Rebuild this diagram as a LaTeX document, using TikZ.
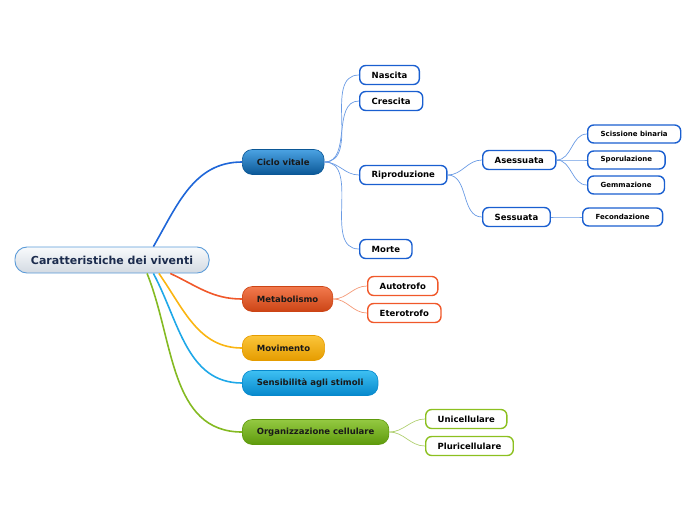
\documentclass[tikz,border=0pt]{standalone}
\usepackage{fontspec}
\setmainfont{DejaVu Sans}
\usetikzlibrary{positioning}
\definecolor{rootink}{HTML}{1B2B4D}
\definecolor{rootedge}{HTML}{5B9BD8}
\definecolor{roottop}{HTML}{F8FAFC}
\definecolor{rootbot}{HTML}{D3DAE2}
\definecolor{cvtrunk}{HTML}{1E66D8}
\definecolor{cvedge}{HTML}{1A5FD0}
\definecolor{cvtwig}{HTML}{6A9BE4}
\definecolor{cvtop}{HTML}{4BA3E3}
\definecolor{cvbot}{HTML}{0B5796}
\definecolor{mbtrunk}{HTML}{F0582A}
\definecolor{mbtwig}{HTML}{F49A78}
\definecolor{mbtop}{HTML}{F27A4E}
\definecolor{mbbot}{HTML}{CC4415}
\definecolor{mvtrunk}{HTML}{FAB512}
\definecolor{mvtop}{HTML}{FBC53A}
\definecolor{mvbot}{HTML}{E59C00}
\definecolor{sstrunk}{HTML}{1FA8E8}
\definecolor{sstop}{HTML}{3EC0F2}
\definecolor{ssbot}{HTML}{0688CC}
\definecolor{octrunk}{HTML}{84BA22}
\definecolor{ocedge}{HTML}{8CC020}
\definecolor{octwig}{HTML}{B0D070}
\definecolor{octop}{HTML}{94C942}
\definecolor{ocbot}{HTML}{5E9A0C}
\tikzset{
  topic/.style={
    rounded corners=12pt, draw=rootedge, line width=0.9pt,
    top color=roottop, bottom color=rootbot, text=rootink,
    minimum height=26pt, inner xsep=16pt,
    font=\fontsize{11}{13}\selectfont\bfseries
  },
  branch/.style 2 args={
    rounded corners=10pt, draw=#2, line width=0.6pt,
    top color=#1, bottom color=#2, text=black!90,
    minimum height=25pt, inner xsep=14.5pt,
    font=\fontsize{8.5}{10}\selectfont\bfseries
  },
  leaf/.style={
    rounded corners=6pt, draw=#1, line width=1.4pt, fill=white,
    minimum height=19pt, inner xsep=12pt,
    font=\fontsize{8.5}{10}\selectfont\bfseries
  },
  subleaf/.style={
    leaf=#1, minimum height=18pt, inner xsep=13pt,
    font=\fontsize{7}{8}\selectfont\bfseries
  },
  trunk/.style={line width=1.6pt, draw=#1},
  twig/.style={line width=0.7pt, draw=#1}
}
\begin{document}
\begin{tikzpicture}[x=1pt,y=1pt]
  \useasboundingbox (0,0) rectangle (696,-520);
  \node[topic] (root) at (112,-260) {Caratteristiche dei viventi};
  \node[branch={cvtop}{cvbot}, on grid, above right=98pt and 130pt of root,
    anchor=west] (ciclo) {Ciclo vitale};
  \node[branch={mbtop}{mbbot}, on grid, below right=39pt and 130pt of root,
    anchor=west] (metab) {Metabolismo};
  \node[branch={mvtop}{mvbot}, on grid, below right=88pt and 130pt of root,
    anchor=west] (movim) {Movimento};
  \node[branch={sstop}{ssbot}, on grid, below right=123pt and 130pt of root,
    anchor=west] (sensib) {Sensibilità agli stimoli};
  \node[branch={octop}{ocbot}, on grid, below right=172pt and 130pt of root,
    anchor=west] (organ) {Organizzazione cellulare};
  \node[leaf=cvedge, on grid, above right=87pt and 117pt of ciclo.west,
    anchor=west] (nascita) {Nascita};
  \node[leaf=cvedge, on grid, below=26pt of nascita.west, anchor=west]
    (crescita) {Crescita};
  \node[leaf=cvedge, on grid, below=74pt of crescita.west, anchor=west]
    (riprod) {Riproduzione};
  \node[leaf=cvedge, on grid, below=74pt of riprod.west, anchor=west]
    (morte) {Morte};
  \node[leaf=cvedge, on grid, above right=15pt and 123pt of riprod.west,
    anchor=west] (asess) {Asessuata};
  \node[leaf=cvedge, on grid, below=57pt of asess.west, anchor=west]
    (sess) {Sessuata};
  \node[subleaf=cvedge, on grid, above right=26pt and 105pt of asess.west,
    anchor=west] (sciss) {Scissione binaria};
  \node[subleaf=cvedge, on grid, right=105pt of asess.west, anchor=west]
    (sporul) {Sporulazione};
  \node[subleaf=cvedge, on grid, below=25pt of sporul.west, anchor=west]
    (gemm) {Gemmazione};
  \node[subleaf=cvedge, on grid, right=100pt of sess.west, anchor=west]
    (fecond) {Fecondazione};
  \node[leaf=mbtrunk, on grid, above right=13pt and 125pt of metab.west,
    anchor=west] (autotr) {Autotrofo};
  \node[leaf=mbtrunk, on grid, below=27pt of autotr.west, anchor=west]
    (eterotr) {Eterotrofo};
  \node[leaf=ocedge, on grid, above right=13pt and 183pt of organ.west,
    anchor=west] (unicell) {Unicellulare};
  \node[leaf=ocedge, on grid, below=27pt of unicell.west, anchor=west]
    (pluricell) {Pluricellulare};
  \draw[trunk=cvtrunk] (root.18) to[out=60,in=180] (ciclo.west);
  \draw[trunk=mbtrunk] (root.-13) to[out=-25,in=180] (metab.west);
  \draw[trunk=mvtrunk] (root.-16) to[out=-55,in=180] (movim.west);
  \draw[trunk=sstrunk] (root.-18) to[out=-62,in=180] (sensib.west);
  \draw[trunk=octrunk] (root.-21) to[out=-68,in=180] (organ.west);
  \draw[twig=cvtwig] (ciclo.east) to[out=0,in=180] (nascita.west);
  \draw[twig=cvtwig] (ciclo.east) to[out=0,in=180] (crescita.west);
  \draw[twig=cvtwig] (ciclo.east) to[out=0,in=180] (riprod.west);
  \draw[twig=cvtwig] (ciclo.east) to[out=0,in=180] (morte.west);
  \draw[twig=cvtwig] (riprod.east) to[out=0,in=180] (asess.west);
  \draw[twig=cvtwig] (riprod.east) to[out=0,in=180] (sess.west);
  \draw[twig=cvtwig] (asess.east) to[out=0,in=180] (sciss.west);
  \draw[twig=cvtwig] (asess.east) to[out=0,in=180] (sporul.west);
  \draw[twig=cvtwig] (asess.east) to[out=0,in=180] (gemm.west);
  \draw[twig=cvtwig] (sess.east) to[out=0,in=180] (fecond.west);
  \draw[twig=mbtwig] (metab.east) to[out=0,in=180] (autotr.west);
  \draw[twig=mbtwig] (metab.east) to[out=0,in=180] (eterotr.west);
  \draw[twig=octwig] (organ.east) to[out=0,in=180] (unicell.west);
  \draw[twig=octwig] (organ.east) to[out=0,in=180] (pluricell.west);
\end{tikzpicture}
\end{document}
